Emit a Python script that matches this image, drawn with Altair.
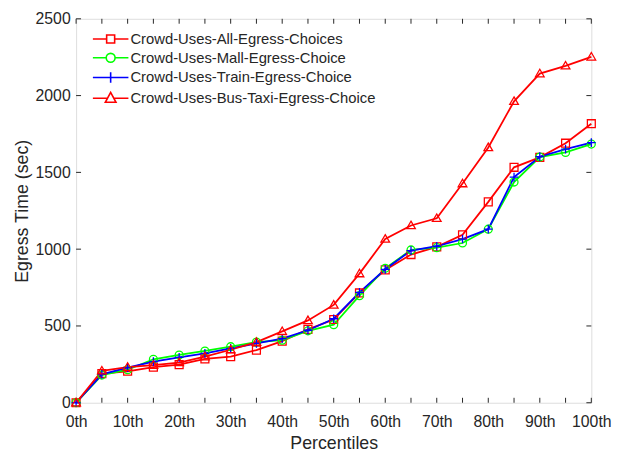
import altair as alt
import pandas as pd

pct = [0, 5, 10, 15, 20, 25, 30, 35, 40, 45, 50, 55, 60, 65, 70, 75, 80, 85, 90, 95, 100]
series_names = [
    "Crowd-Uses-All-Egress-Choices",
    "Crowd-Uses-Mall-Egress-Choice",
    "Crowd-Uses-Train-Egress-Choice",
    "Crowd-Uses-Bus-Taxi-Egress-Choice",
]
all_choices = [0, 190, 205, 232, 248, 285, 300, 343, 401, 478, 542, 715, 865, 965, 1015, 1094, 1308, 1533, 1598, 1690, 1817]
mall_choice = [0, 180, 215, 283, 311, 337, 365, 395, 407, 468, 508, 697, 875, 995, 1010, 1040, 1130, 1437, 1600, 1630, 1684]
train_choice = [0, 185, 228, 268, 296, 322, 354, 386, 418, 472, 547, 719, 869, 991, 1019, 1066, 1130, 1469, 1602, 1652, 1694]
bus_taxi_choice = [0, 208, 232, 245, 262, 300, 345, 395, 465, 536, 637, 841, 1066, 1154, 1201, 1427, 1662, 1963, 2143, 2194, 2252]
x_tick_values = [0, 5, 10, 15, 20, 25, 30, 35, 40, 45, 50, 55, 60, 65, 70, 75, 80, 85, 90, 95, 100]
x_label_values = [0, 10, 20, 30, 40, 50, 60, 70, 80, 90, 100]
y_tick_values = [0, 500, 1000, 1500, 2000, 2500]

colors = ["#FF0000", "#00FF00", "#0000FF", "#FF0000"]
marker_paths = [
    "M-1,-1H1V1H-1Z",
    "M-1,0A1,1 0 1,0 1,0A1,1 0 1,0 -1,0Z",
    "M-1.1,0H1.1M0,-1.1V1.1",
    "M0,-1.1L1.1,0.8H-1.1Z",
]
# legend glyphs: a line sample with the marker in its middle (unit = half the legend symbol size)
legend_paths = [
    "M-1,0H2.1M3.9,0H7M2.1,-0.9H3.9V0.9H2.1Z",
    "M-1,0H2M4,0H7M2,0A1,1 0 1,0 4,0A1,1 0 1,0 2,0Z",
    "M-1,0H7M3,-1.2V1.2",
    "M-1,0H2.3M3.7,0H7M3,-1.3L4.2,0.9H1.8Z",
]

W, H = 522, 389
rows = []
for name, vals in zip(series_names, [all_choices, mall_choice, train_choice, bus_taxi_choice]):
    for p, v in zip(pct, vals):
        rows.append({"pct": p, "value": v, "series": name})
df = pd.DataFrame(rows)

font = "Liberation Sans"
txt = "#262626"
xscale = alt.Scale(domain=[0, 100], nice=False)
yscale = alt.Scale(domain=[0, 2500], nice=False)
cscale = alt.Scale(domain=series_names, range=colors)

x_enc = alt.X(
    "pct:Q", scale=xscale,
    axis=alt.Axis(values=x_label_values, labelExpr="datum.value + 'th'", ticks=False, domain=False,
                  grid=False, title="Percentiles", labelPadding=11, titlePadding=5, labelFlush=False,
                  labelFontSize=16, titleFontSize=18, labelColor=txt, titleColor=txt,
                  labelFont=font, titleFont=font, titleFontWeight="normal"),
)
y_enc = alt.Y(
    "value:Q", scale=yscale,
    axis=alt.Axis(values=y_tick_values, ticks=False, domain=False, grid=False, format="d",
                  title="Egress Time (sec)", labelPadding=6, titlePadding=4, labelFlush=False,
                  labelFontSize=16, titleFontSize=18, labelColor=txt, titleColor=txt,
                  labelFont=font, titleFont=font, titleFontWeight="normal"),
)

base = alt.Chart(df)
lines = base.mark_line(strokeWidth=1.8).encode(
    x=x_enc, y=y_enc,
    color=alt.Color("series:N", scale=cscale, legend=None),
)
points = base.mark_point(filled=False, size=64, strokeWidth=1.3, opacity=1).encode(
    x="pct:Q", y="value:Q",
    color=alt.Color("series:N", scale=cscale, legend=None),
    shape=alt.Shape("series:N", scale=alt.Scale(domain=series_names, range=marker_paths), legend=None),
)

leg_props = dict(title=None, orient="none", legendX=14, legendY=13,
                 labelFont=font, labelFontSize=15, labelColor=txt,
                 labelOffset=26, rowPadding=2, symbolOpacity=1, symbolSize=81,
                 symbolStrokeWidth=1.6, padding=0, labelLimit=400)
leg_df = pd.DataFrame({"series": series_names, "pct": [0] * 4, "value": [0] * 4})
legend_layer = alt.Chart(leg_df).mark_point(filled=False, size=81, opacity=0, strokeWidth=1.6).encode(
    x="pct:Q", y="value:Q",
    color=alt.Color("series:N", scale=cscale, sort=series_names, legend=alt.Legend(**leg_props)),
    shape=alt.Shape("series:N", scale=alt.Scale(domain=series_names, range=legend_paths), sort=series_names,
                    legend=alt.Legend(**leg_props)),
)

xt = pd.DataFrame({"t": x_tick_values})
yt = pd.DataFrame({"t": y_tick_values})
xtick_bottom = alt.Chart(xt).mark_rule(color=txt, strokeWidth=1).encode(
    x=alt.X("t:Q", scale=xscale), y=alt.value(H), y2=alt.value(H - 5))
xtick_top = alt.Chart(xt).mark_rule(color=txt, strokeWidth=1).encode(
    x=alt.X("t:Q", scale=xscale), y=alt.value(0), y2=alt.value(5))
ytick_left = alt.Chart(yt).mark_rule(color=txt, strokeWidth=1).encode(
    y=alt.Y("t:Q", scale=yscale), x=alt.value(0), x2=alt.value(5))
ytick_right = alt.Chart(yt).mark_rule(color=txt, strokeWidth=1).encode(
    y=alt.Y("t:Q", scale=yscale), x=alt.value(W), x2=alt.value(W - 5))

chart = alt.layer(
    xtick_bottom, xtick_top, ytick_left, ytick_right, lines, points, legend_layer
).resolve_scale(color="independent", shape="independent").properties(
    width=W, height=H,
    autosize=alt.AutoSizeParams(type="none"),
    padding={"left": 69, "top": 8, "right": 25, "bottom": 50},
).configure_view(stroke="#262626", strokeWidth=1).configure(background="white")

chart.save("out.html", embed_options={"renderer": "svg", "actions": False})
